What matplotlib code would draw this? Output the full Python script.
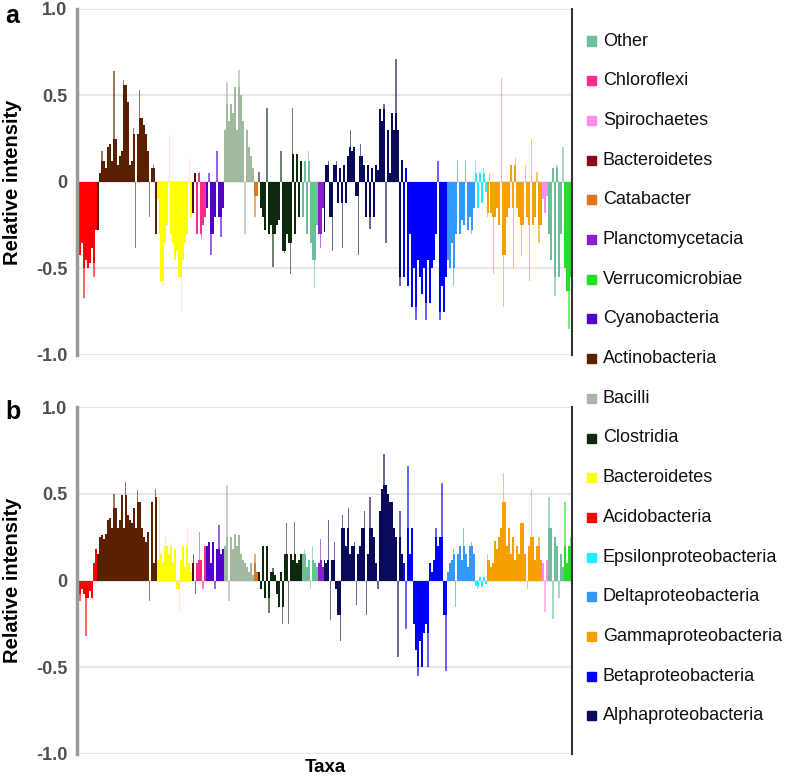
import matplotlib
matplotlib.use("Agg")
import matplotlib.pyplot as plt
from matplotlib.patches import Rectangle
import numpy as np

plt.rcParams["font.family"] = ["Liberation Sans", "DejaVu Sans"]

# legend order (top to bottom) and colours
LEGEND_NAMES = [
    "Other", "Chloroflexi", "Spirochaetes", "Bacteroidetes", "Catabacter",
    "Planctomycetacia", "Verrucomicrobiae", "Cyanobacteria", "Actinobacteria",
    "Bacilli", "Clostridia", "Bacteroidetes", "Acidobacteria",
    "Epsilonproteobacteria", "Deltaproteobacteria", "Gammaproteobacteria",
    "Betaproteobacteria", "Alphaproteobacteria",
]
LEGEND_COLORS = [
    "#6cbf99", "#ff2a8f", "#ff8cec", "#8b0a1a", "#e0761c",
    "#8a1ecc", "#22e022", "#5200cc", "#5a2000",
    "#a3b8a0", "#0d2a0d", "#ffff00", "#ff0000",
    "#22eeff", "#3399ff", "#f5a000",
    "#0000ff", "#0a0a5a",
]
COLOR = {
    "other": "#6cbf99", "chloroflexi": "#ff2a8f", "spirochaetes": "#ff8cec",
    "bacteroidetes_dark": "#4a1010", "catabacter": "#e0761c", "planctomycetacia": "#8a1ecc",
    "verrucomicrobiae": "#22e022", "cyanobacteria": "#5200cc", "actinobacteria": "#5a2000",
    "bacilli": "#a3b8a0", "clostridia": "#0d2a0d", "bacteroidetes": "#ffff00",
    "acidobacteria": "#ff0000", "epsilon": "#22eeff", "delta": "#3399ff",
    "gamma": "#f5a000", "beta": "#0000ff", "alpha": "#0a0a5a",
}

# order of taxa along the x axis
TAXA_ORDER = [
    "acidobacteria", "actinobacteria", "bacteroidetes", "bacteroidetes_dark",
    "chloroflexi", "cyanobacteria", "bacilli", "catabacter", "clostridia", "other",
    "planctomycetacia", "alpha", "beta", "delta", "epsilon", "gamma",
    "spirochaetes", "other", "verrucomicrobiae",
]

# panel a values
a_acidobacteria = [-0.64, -0.42, -0.35, -0.67, -0.45, -0.5, -0.47, -0.38, -0.55, -0.28]
a_actinobacteria = [-0.28, 0.05, 0.18, 0.12, 0.08, 0.2, 0.22, 0.12, 0.64, 0.25,
                    0.1, 0.15, 0.18, 0.59, 0.56, 0.46, 0.1, 0.12, 0.31, -0.38,
                    0.28, 0.53, 0.37, 0.33, 0.28, 0.18, -0.2, 0.08, 0.1, -0.3]
a_bacteroidetes = [-0.1, -0.3, -0.57, -0.6, -0.35, -0.25, 0.28, -0.3, -0.35,
                   -0.45, -0.4, -0.55, -0.74, -0.45, -0.35, -0.3, 0.14, -0.2]
a_bacteroidetes_dark = [-0.18, 0.05]
a_chloroflexi = [-0.3, 0.06, -0.33, -0.25, -0.2]
a_cyanobacteria = [-0.15, 0.05, -0.42, -0.3, -0.2, 0.18, -0.2, -0.32, -0.15]
a_bacilli = [0.3, 0.58, 0.35, 0.45, 0.4, 0.55, 0.3, 0.65, 0.5, 0.35, -0.3, 0.3, 0.2, 0.15, 0.08]
a_catabacter = [-0.2, -0.08]
a_clostridia = [0.06, -0.15, -0.2, -0.28, 0.43, -0.3, -0.25, -0.49, -0.3, -0.25, -0.22,
                0.18, -0.4, -0.41, -0.3, -0.35, -0.53, 0.43, -0.3, 0.16, -0.2, 0.12]
a_other1 = [-0.2, 0.12, -0.3, 0.18, -0.35, -0.45, -0.61, -0.25]
a_planctomycetacia = [-0.3, -0.38, -0.15]
a_alpha = [-0.29, 0.1, 0.12, -0.2, -0.4, 0.1, 0.12, -0.12, 0.08, -0.38,
           0.1, -0.12, 0.15, 0.3, 0.18, 0.2, -0.08, -0.42, 0.22, 0.15,
           0.1, -0.2, 0.1, -0.27, 0.08, -0.2, 0.1, 0.07, 0.42, 0.35,
           0.45, -0.35, 0.3, 0.05, 0.4, 0.3, 0.71, 0.3, -0.6, 0.13]
a_beta = [-0.55, 0.08, -0.6, -0.3, -0.72, -0.5, -0.8, -0.45, -0.55, -0.65, -0.5,
          -0.8, -0.45, -0.7, -0.5, -0.45, -0.3, 0.12, -0.8, -0.6, -0.75, -0.55]
a_delta = [-0.45, -0.5, -0.35, -0.6, -0.3, 0.12, -0.3, -0.22, -0.25, 0.12, -0.28, -0.2, -0.3, -0.15]
a_epsilon = [0.12, -0.15, 0.05, -0.12, 0.08, -0.06]
a_gamma = [-0.2, 0.05, -0.18, -0.53, -0.2, -0.15, -0.25, 0.6, -0.72, -0.42,
           -0.2, -0.15, 0.1, -0.5, 0.14, -0.15, -0.2, -0.43, -0.25, 0.1,
           -0.2, -0.57, 0.25, -0.25, -0.2, 0.06, -0.35, -0.25]
a_spirochaetes = [-0.1, -0.18, -0.08]
a_other2 = [-0.3, -0.45, 0.08, -0.66, 0.1, -0.55, -0.3, 0.2]
a_verrucomicrobiae = [-0.5, -0.63, -0.85, -0.55]

# panel b values
b_acidobacteria = [0.08, -0.12, -0.05, -0.08, -0.32, -0.1, -0.06, -0.1, 0.1, 0.18]
b_actinobacteria = [0.15, 0.25, 0.26, 0.24, 0.27, 0.35, 0.36, 0.3, 0.5, 0.42,
                    0.3, 0.35, 0.49, 0.3, 0.57, 0.38, 0.35, 0.33, 0.42, 0.3,
                    0.52, 0.45, 0.3, 0.25, 0.22, 0.28, -0.12, 0.45, 0.1, 0.53]
b_bacteroidetes = [0.12, 0.48, 0.15, 0.1, 0.25, 0.2, 0.15, 0.22, 0.1,
                   0.18, -0.05, -0.18, 0.12, 0.2, 0.08, 0.3, 0.1, 0.05]
b_bacteroidetes_dark = [0.15, -0.08]
b_chloroflexi = [0.1, 0.28, 0.12, -0.05, 0.2]
b_cyanobacteria = [0.2, 0.22, 0.1, 0.22, -0.05, 0.18, 0.32, 0.15, 0.18]
b_bacilli = [0.2, 0.55, -0.12, 0.25, 0.18, 0.27, 0.2, 0.26, 0.15, 0.12, 0.1, 0.08, 0.05, 0.1, 0.03]
b_catabacter = [0.15, 0.05]
b_clostridia = [0.05, -0.05, 0.2, -0.1, 0.2, -0.19, 0.05, 0.07, 0.03, -0.08, -0.15,
                0.05, -0.25, 0.15, 0.33, -0.25, 0.15, 0.12, 0.34, 0.1, 0.12, 0.15]
b_other1 = [0.15, 0.18, 0.08, 0.12, -0.05, 0.2, 0.1, 0.08]
b_planctomycetacia = [0.1, 0.24, 0.08]
b_alpha = [0.12, 0.1, 0.35, -0.23, 0.12, 0.22, -0.05, -0.2, -0.35, 0.38,
           0.3, 0.2, 0.42, 0.15, 0.2, 0.22, -0.14, 0.15, 0.2, 0.3,
           0.4, -0.2, 0.15, 0.48, 0.3, 0.25, 0.1, -0.05, 0.4, 0.53,
           0.73, 0.55, 0.5, 0.45, 0.45, 0.3, 0.25, -0.44, 0.4, 0.15]
b_beta = [0.1, -0.28, 0.66, 0.15, 0.3, -0.25, -0.4, -0.55, -0.35, -0.5, -0.3,
          -0.25, -0.5, 0.1, 0.05, 0.12, 0.3, 0.2, 0.25, 0.56, -0.2, -0.52]
b_delta = [0.05, 0.1, 0.12, 0.18, -0.15, 0.15, 0.2, 0.12, 0.3, 0.15, 0.08, 0.2, 0.22, 0.15]
b_epsilon = [-0.03, -0.05, 0.02, -0.04, 0.02, -0.02]
b_gamma = [0.15, 0.12, 0.08, 0.1, 0.23, 0.18, 0.25, 0.3, 0.62, 0.45,
           0.2, 0.3, 0.15, 0.25, 0.12, 0.2, 0.15, 0.33, 0.33, 0.15,
           -0.05, 0.2, 0.52, 0.25, 0.12, 0.2, 0.25, 0.12]
b_spirochaetes = [0.1, -0.18, 0.12]
b_other2 = [0.48, 0.3, -0.22, 0.25, 0.2, -0.1, 0.15, 0.08]
b_verrucomicrobiae = [0.45, 0.1, 0.2, 0.25]

PANEL_A = [a_acidobacteria, a_actinobacteria, a_bacteroidetes, a_bacteroidetes_dark,
           a_chloroflexi, a_cyanobacteria, a_bacilli, a_catabacter, a_clostridia, a_other1,
           a_planctomycetacia, a_alpha, a_beta, a_delta, a_epsilon, a_gamma,
           a_spirochaetes, a_other2, a_verrucomicrobiae]
PANEL_B = [b_acidobacteria, b_actinobacteria, b_bacteroidetes, b_bacteroidetes_dark,
           b_chloroflexi, b_cyanobacteria, b_bacilli, b_catabacter, b_clostridia, b_other1,
           b_planctomycetacia, b_alpha, b_beta, b_delta, b_epsilon, b_gamma,
           b_spirochaetes, b_other2, b_verrucomicrobiae]


def envelope(values: np.ndarray, reach: int = 2) -> np.ndarray:
    """Clip spikes to the tallest same-sign neighbour nearby (drawn solid)."""
    core = np.zeros_like(values)
    for i, v in enumerate(values):
        neigh = [
            abs(values[j])
            for j in range(i - reach, i + reach + 1)
            if j != i and 0 <= j < len(values) and np.sign(values[j]) == np.sign(v)
        ]
        if neigh:
            core[i] = np.sign(v) * min(abs(v), max(neigh))
    return core


def draw_panel(ax, groups):
    values = np.concatenate([np.asarray(g, dtype=float) for g in groups])
    colors = np.concatenate([[COLOR[t]] * len(g) for t, g in zip(TAXA_ORDER, groups)])
    x = np.arange(len(values))
    # spikes thin and pale, the dense body solid
    ax.bar(x, values, width=0.75, color=colors, alpha=0.6, linewidth=0)
    ax.bar(x, envelope(values), width=1.0, color=colors, linewidth=0)

    ax.set_xlim(-0.5, len(values) - 0.5)
    ax.set_ylim(-1.0, 1.0)
    for y in (-1.0, -0.5, 0.0, 0.5, 1.0):
        ax.axhline(y, color="#e6e6e6", linewidth=1.5, zorder=0)
    ax.set_yticks([-1.0, -0.5, 0.0, 0.5, 1.0], labels=["-1.0", "-0.5", "0", "0.5", "1.0"])
    ax.set_xticks([])
    ax.tick_params(axis="y", length=0, pad=7, labelsize=13, labelcolor="#505050")
    for lab in ax.get_yticklabels():
        lab.set_fontweight("bold")
    for side in ("top", "bottom"):
        ax.spines[side].set_visible(False)
    ax.spines["left"].set_color("#9a9a9a")
    ax.spines["left"].set_linewidth(2.5)
    ax.spines["right"].set_color("#333333")
    ax.spines["right"].set_linewidth(1.5)
    ax.set_ylabel("Relative intensity", fontsize=14.5, fontweight="bold")
    ax.yaxis.set_label_coords(-0.112, 0.5)


W, H = 785, 779
fig = plt.figure(figsize=(W / 100, H / 100), dpi=100)
ax_a = fig.add_axes([77 / W, 1 - 355 / H, 495 / W, 346 / H])
ax_b = fig.add_axes([77 / W, 1 - 754 / H, 495 / W, 347 / H])
draw_panel(ax_a, PANEL_A)
draw_panel(ax_b, PANEL_B)

fig.text(5 / W, 1 - 16 / H, "a", fontsize=18, fontweight="bold", va="center")
fig.text(5 / W, 1 - 412 / H, "b", fontsize=18, fontweight="bold", va="center")
fig.text(325 / W, 1 - 768 / H, "Taxa", fontsize=13.5, fontweight="bold", ha="center", va="center")

# legend
leg_top, leg_step = 41, 39.7
for i, (name, color) in enumerate(zip(LEGEND_NAMES, LEGEND_COLORS)):
    yc = leg_top + i * leg_step
    fig.patches.append(Rectangle((587 / W, 1 - (yc + 4.5) / H), 9 / W, 9 / H,
                                 transform=fig.transFigure, color=color))
    fig.text(603 / W, 1 - yc / H, name, fontsize=13, va="center", color="#111111")

fig.savefig("out.png", dpi=100)
